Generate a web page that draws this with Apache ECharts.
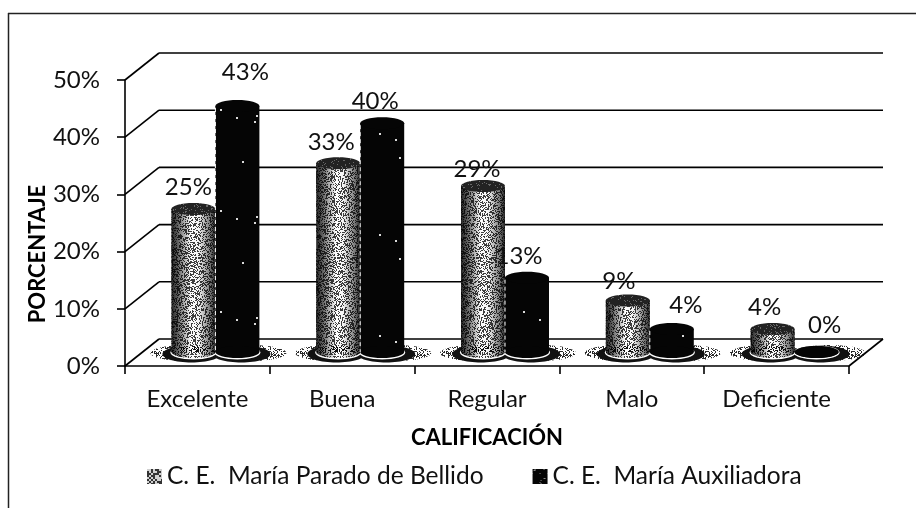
<!DOCTYPE html>
<html><head><meta charset="utf-8">
<style>html,body{margin:0;padding:0;background:#fff}#c{width:916px;height:508px}</style>
<script src="https://cdn.jsdelivr.net/npm/echarts@6/dist/echarts.min.js"></script>
</head><body><div id="c"></div>
<script>
const categories = ['Excelente','Buena','Regular','Malo','Deficiente'];
const seriesNames = ['C. E.  María Parado de Bellido','C. E.  María Auxiliadora'];
const pctParado = [25,33,29,9,4];
const pctAuxiliadora = [43,40,13,4,0];
const yTicks = [0,10,20,30,40,50];

const FONT = 'Lato, "Open Sans", sans-serif';
const DX = 34, DY = -27;      // depth of the 3D box
const MX = 18, MY = -14;      // where bars stand in the depth
const BW = 44;
const LABEL_NUDGE = [
  [[-5,-22],[-7,-21],[-6,-17],[-9,-19],[-8,-22]],
  [[8,-34],[-7,-22],[-8,-21],[14,-24],[8,-27]]
];

function speckle(size, bg, fg, density, seed, block){
  const c = document.createElement('canvas'); c.width = c.height = size;
  const g = c.getContext('2d');
  if (bg){ g.fillStyle = bg; g.fillRect(0,0,size,size); }
  let s = seed;
  const next = () => { s = (s*1103515245 + 12345) & 0x7fffffff; return ((s>>>9)&0xffff)/0xffff; };
  const b = block || 1;
  for (let y=0;y<size;y+=b) for (let x=0;x<size;x+=b){
    if (next() < density){ g.fillStyle = fg; g.fillRect(x,y,b,b); }
  }
  return c;
}
const darkGrain = {type:'pattern', image: speckle(139,null,'rgba(0,0,0,0.75)',0.42,7,1), repeat:'repeat'};
const lightGrain = {type:'pattern', image: speckle(97,null,'rgba(255,255,255,0.9)',0.10,31,1), repeat:'repeat'};
const blackGrain = {type:'pattern', image: speckle(101,null,'rgba(255,255,255,0.85)',0.003,13,2), repeat:'repeat'};
const fringe = {type:'pattern', image: speckle(73,null,'rgba(20,20,20,0.9)',0.4,19,1), repeat:'repeat'};
const legendA = {type:'pattern', image: speckle(16,'#cfcfcf','#333',0.4,5,2), repeat:'repeat'};
const legendB = {type:'pattern', image: speckle(16,'#050505','#888',0.05,9,1), repeat:'repeat'};

const sideA = {type:'linear',x:0,y:0,x2:1,y2:0,colorStops:[
  {offset:0,color:'#222'},{offset:.16,color:'#666'},{offset:.45,color:'#fff'},{offset:.62,color:'#f4f4f4'},
  {offset:.88,color:'#777'},{offset:1,color:'#222'}]};

function cylinder(seriesIndex, values){
  return function(params, api){
    const i = api.value(0), v = api.value(1);
    const base = api.coord([i,0]), top = api.coord([i,v]);
    const cx = base[0] + MX + (seriesIndex ? BW/2 : -BW/2);
    const y0 = base[1] + MY, y1 = top[1] + MY;
    const rx = BW/2, ry = 6;
    const kids = [];
    const isA = seriesIndex === 0;
    // floor shadow: stippled fringe, then solid core
    kids.push({type:'ellipse',z2:0,shape:{cx:cx+(isA?-6:12),cy:y0+1,rx:rx+15,ry:8},style:{fill:fringe}});
    kids.push({type:'ellipse',z2:1,shape:{cx:cx+(isA?-2:4),cy:y0+2,rx:rx+7,ry:8.5},style:{fill:'#111'}});
    kids.push({type:'ellipse',z2:2,shape:{cx,cy:y0+0.5,rx:rx+1,ry:ry+1},style:{fill:'#fff'}});
    const r = {x:cx-rx,y:y1,width:BW,height:Math.max(y0-y1,0)};
    if (isA){
      kids.push({type:'rect',z2:5,shape:r,style:{fill:sideA}});
      kids.push({type:'ellipse',z2:5,shape:{cx,cy:y0,rx,ry},style:{fill:sideA}});
      kids.push({type:'rect',z2:6,shape:r,style:{fill:darkGrain}});
      kids.push({type:'ellipse',z2:6,shape:{cx,cy:y0,rx,ry},style:{fill:darkGrain}});
      kids.push({type:'ellipse',z2:7,shape:{cx,cy:y1,rx,ry},style:{fill:'#222'}});
      kids.push({type:'ellipse',z2:7,shape:{cx,cy:y1,rx,ry},style:{fill:lightGrain,opacity:.35}});
    } else {
      kids.push({type:'rect',z2:8,shape:r,style:{fill:'#050505'}});
      kids.push({type:'ellipse',z2:8,shape:{cx,cy:y0,rx,ry},style:{fill:'#050505'}});
      kids.push({type:'ellipse',z2:8,shape:{cx,cy:y1,rx,ry},style:{fill:'#050505'}});
      kids.push({type:'rect',z2:9,shape:r,style:{fill:blackGrain}});
      if (y0-y1 > 4) kids.push({type:'line',z2:9,shape:{x1:cx-rx,y1:y1+2,x2:cx-rx,y2:y0},
        style:{stroke:'#fff',lineWidth:1,lineDash:[4,3]}});
    }
    const n = LABEL_NUDGE[seriesIndex][params.dataIndex];
    kids.push({type:'text',z2:20,style:{x:cx+n[0],y:y1+n[1],text:values[params.dataIndex]+'%',
      font:'24px '+FONT,fill:'#111',align:'center',verticalAlign:'middle'}});
    return {type:'group',children:kids};
  };
}

function wall(params, api){
  const v = api.value(0);
  const f = api.coord([0,v]);
  const band = api.size([1,0])[0];
  const L = f[0]-band/2;
  const R = L + band*categories.length;
  const st = {stroke:'#000',lineWidth:1.6};
  const kids = [
    {type:'line',shape:{x1:L,y1:f[1],x2:L+DX,y2:f[1]+DY},style:st},
    {type:'line',shape:{x1:L+DX,y1:f[1]+DY,x2:R+DX,y2:f[1]+DY},style:st}
  ];
  if (v === 0) kids.push({type:'line',shape:{x1:R,y1:f[1],x2:R+DX,y2:f[1]+DY},style:st});
  return {type:'group',children:kids};
}

const mk = (idx, values, color) => ({
  type:'custom', name:seriesNames[idx], coordinateSystem:'cartesian2d', clip:false, z:3,
  itemStyle:{color}, renderItem:cylinder(idx,values),
  encode:{x:0,y:1}, data:values.map((v,i)=>[i,v])
});

const chart = echarts.init(document.getElementById('c'),null,{renderer:'canvas'});
chart.setOption({
  animation:false, backgroundColor:'#fff',
  textStyle:{fontFamily:FONT},
  grid:{left:125,right:67,top:80,bottom:142,containLabel:false},
  xAxis:{type:'category',data:categories,boundaryGap:true,
    axisLine:{lineStyle:{color:'#000',width:1.6}},
    axisTick:{show:true,alignWithLabel:false,length:8,lineStyle:{color:'#000',width:1.6}},
    axisLabel:{color:'#111',fontSize:24,fontFamily:FONT,margin:21},
    name:'CALIFICACIÓN',nameLocation:'middle',nameGap:61,
    nameTextStyle:{color:'#000',fontSize:22,fontWeight:'bold',fontFamily:FONT}},
  yAxis:{type:'value',min:0,max:50,interval:10,
    axisLine:{show:true,lineStyle:{color:'#000',width:1.6}},
    axisTick:{show:true,length:8,lineStyle:{color:'#000',width:1.6}},
    splitLine:{show:false},
    axisLabel:{color:'#111',fontSize:24,fontFamily:FONT,margin:25,formatter:'{value}%'},
    name:'PORCENTAJE',nameLocation:'middle',nameGap:76,nameRotate:90,nameMoveOverlap:false,
    nameTextStyle:{color:'#000',fontSize:22,fontWeight:'bold',fontFamily:FONT,padding:[0,62,0,0]}},
  legend:{left:142,top:459,itemWidth:15,itemHeight:15,itemGap:49,icon:'rect',
    data:seriesNames,selectedMode:false,
    textStyle:{color:'#111',fontSize:24.5,fontFamily:FONT}},
  graphic:[
    {type:'line',silent:true,shape:{x1:8,y1:13.5,x2:916,y2:13.5},style:{stroke:'#222',lineWidth:1.5}},
    {type:'line',silent:true,shape:{x1:8.5,y1:13,x2:8.5,y2:508},style:{stroke:'#222',lineWidth:1.5}}
  ],
  series:[
    {type:'custom',name:'wall',coordinateSystem:'cartesian2d',clip:false,z:1,silent:true,
      renderItem:wall,encode:{y:0},data:yTicks.map(v=>[v])},
    mk(0,pctParado,legendA), mk(1,pctAuxiliadora,legendB)
  ]
});
</script></body></html>
